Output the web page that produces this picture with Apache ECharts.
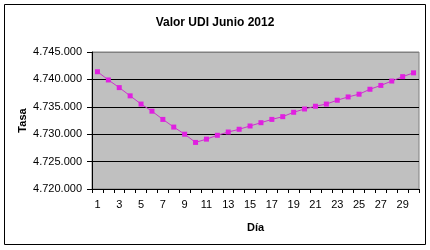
<!DOCTYPE html>
<html>
<head>
<meta charset="utf-8">
<script src="https://cdn.jsdelivr.net/npm/echarts@6/dist/echarts.min.js"></script>
<style>
html,body{margin:0;padding:0;background:#fff;}
#main{width:430px;height:250px;}
</style>
</head>
<body>
<div id="main"></div>
<script>
// dias del mes
var dias = [1,2,3,4,5,6,7,8,9,10,11,12,13,14,15,16,17,18,19,20,21,22,23,24,25,26,27,28,29,30];
// valor de la UDI
var tasa = [4.7414,4.7399,4.7385,4.7370,4.7355,4.7342,4.7327,4.7313,4.7300,4.7285,
            4.7291,4.7298,4.7304,4.7309,4.7315,4.7321,4.7327,4.7332,4.7340,4.7346,
            4.7351,4.7355,4.7362,4.7368,4.7373,4.7382,4.7389,4.7397,4.7405,4.7412];
// etiquetas del eje y
var etiquetasY = ['4.720.000','4.725.000','4.730.000','4.735.000','4.740.000','4.745.000'];

var myChart = echarts.init(document.getElementById('main'));
var font = 'Liberation Sans, Arial, sans-serif';
var option = {
    animation: false,
    backgroundColor: '#fff',
    title: {
        text: 'Valor UDI Junio 2012',
        left: 'center',
        top: 12,
        textStyle: {fontFamily: font, fontSize: 12, fontWeight: 'bold', color: '#000'}
    },
    graphic: [{
        type: 'rect',
        shape: {x: 4.5, y: 4.5, width: 421, height: 240},
        style: {fill: 'none', stroke: '#000', lineWidth: 1}
    }],
    grid: {
        left: 92, right: 11, top: 52, bottom: 61,
        show: true,
        backgroundColor: '#c0c0c0',
        borderColor: '#808080',
        borderWidth: 1
    },
    xAxis: {
        type: 'category',
        data: dias,
        boundaryGap: true,
        name: 'Día',
        nameLocation: 'middle',
        nameGap: 33,
        nameMoveOverlap: false,
        nameTextStyle: {fontFamily: font, fontSize: 11, fontWeight: 'bold', color: '#000'},
        axisLine: {lineStyle: {color: '#000', width: 1}},
        axisTick: {show: true, interval: 0, length: 4, lineStyle: {color: '#000'}},
        axisLabel: {interval: 1, margin: 10, fontFamily: font, fontSize: 11, color: '#000'}
    },
    yAxis: {
        type: 'value',
        min: 4.720,
        max: 4.745,
        interval: 0.005,
        name: 'Tasa',
        nameLocation: 'middle',
        nameGap: 64,
        nameMoveOverlap: false,
        nameTextStyle: {fontFamily: font, fontSize: 11, fontWeight: 'bold', color: '#000'},
        axisLine: {show: true, lineStyle: {color: '#000', width: 1}},
        axisTick: {show: true, length: 5, lineStyle: {color: '#000'}},
        axisLabel: {
            margin: 10,
            fontFamily: font, fontSize: 11, color: '#000',
            formatter: function (v) {
                return etiquetasY[Math.round((v - 4.720) / 0.005)];
            }
        },
        splitLine: {show: true, lineStyle: {color: ['#000','#000','#000','#000','#000','#808080'], width: 1}}
    },
    series: [{
        type: 'line',
        data: tasa,
        symbol: 'rect',
        symbolSize: 5,
        showAllSymbol: true,
        lineStyle: {color: '#cc33cc', width: 1},
        itemStyle: {color: '#e020e0'}
    }]
};
myChart.setOption(option);
</script>
</body>
</html>
